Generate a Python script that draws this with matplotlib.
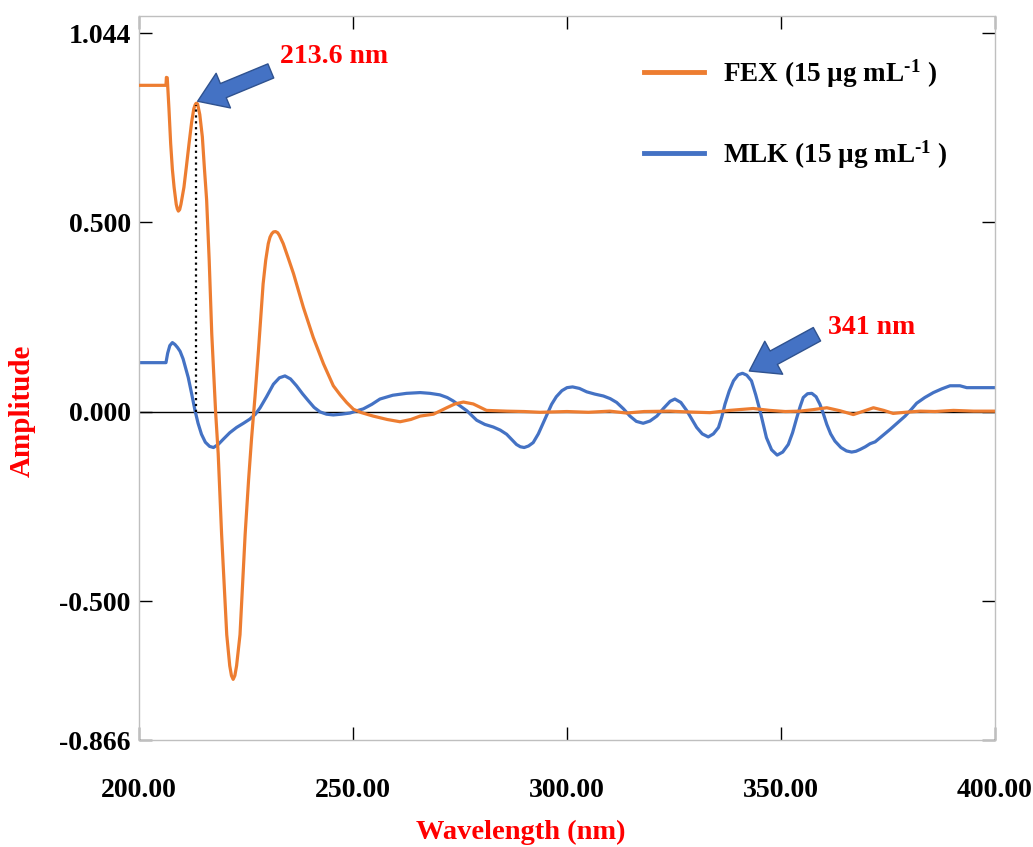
import matplotlib
matplotlib.use('Agg')
import matplotlib.pyplot as plt

plt.rcParams['font.family'] = ['Liberation Serif', 'DejaVu Serif']
plt.rcParams['font.weight'] = 'bold'
plt.rcParams['mathtext.fontset'] = 'custom'
plt.rcParams['mathtext.rm'] = 'Liberation Serif:bold'
plt.rcParams['mathtext.it'] = 'Liberation Serif:bold'
plt.rcParams['mathtext.bf'] = 'Liberation Serif:bold'
plt.rcParams['mathtext.default'] = 'rm'

# first-derivative spectra
fex_wl = [200, 203, 206.3, 206.4, 206.6, 207.0, 207.4, 207.8, 208.2, 208.7, 208.95, 209.2, 209.5, 209.8, 210.5,
          211.1, 211.7, 212.3, 212.8, 213.1, 213.3, 213.5, 213.7, 214.2, 214.8, 215.3, 215.8, 216.4, 217.0,
          217.9, 218.5, 219.3, 220.5, 221.2, 221.6, 222.0, 222.4, 222.8, 223.6, 224.8, 225.6, 226.3, 227.1,
          227.9, 229.0, 229.6, 230.2, 230.6, 231.0, 231.4, 231.9, 232.4, 232.8, 233.7, 234.9, 236.1, 238.4, 240.7, 243.1,
          245.4, 247.0, 248.5, 250.1, 252.0, 254.7, 258.0, 261.0, 263.5, 265.7, 268.8, 271.9,
          273.8, 275.8, 278.1, 281.2, 285.9, 290, 293.7, 300, 305, 310, 313.9, 318, 324, 328,
          333.4, 338, 343.5, 347.4, 351, 354.4, 357.5, 360.7, 363.8, 366.9, 369.3, 371.6, 374,
          376.2, 379, 382.5, 386, 390.3, 395, 400]
fex_amp = [0.862, 0.862, 0.862, 0.883, 0.882, 0.800, 0.708, 0.640, 0.593, 0.548, 0.536, 0.530, 0.534, 0.548, 0.593,
           0.650, 0.709, 0.765, 0.800, 0.810, 0.814, 0.815, 0.812, 0.785, 0.726, 0.640, 0.560, 0.400, 0.206,
           0.000, -0.110, -0.323, -0.588, -0.670, -0.696, -0.706, -0.696, -0.670, -0.588, -0.323, -0.180, -0.070, 0.040,
           0.161, 0.338, 0.400, 0.444, 0.461, 0.470, 0.475, 0.476, 0.473, 0.466, 0.444, 0.405, 0.365, 0.276, 0.197, 0.127,
           0.069, 0.045, 0.025, 0.007, -0.002, -0.011, -0.020, -0.026, -0.020, -0.011, -0.006, 0.011,
           0.021, 0.026, 0.021, 0.004, 0.002, 0.001, -0.001, 0.001, -0.001, 0.002, -0.003, 0.001, 0.002, 0.000,
           -0.002, 0.004, 0.009, 0.004, 0.001, 0.002, 0.006, 0.011, 0.003, -0.007, 0.002, 0.011, 0.004,
           -0.004, -0.001, 0.002, 0.001, 0.004, 0.002, 0.002]

mlk_wl = [200, 203, 206.3, 206.7, 207.2, 207.8, 208.4, 209.0, 209.6, 210.3, 211.5, 212.3, 213.1,
          213.8, 214.6, 215.5, 216.5, 217.4, 218.5, 219.7, 221.2, 222.8, 224.4, 225.9, 227.2,
          228.3, 229.8, 231.4, 232.8, 234.1, 235.4, 236.8, 238.2, 239.6, 240.9, 242.3, 243.8,
          245.4, 247.3, 249.3, 250.9, 252.4, 254.4, 256.3, 259.3, 262.5, 265.7, 268.0, 270.3,
          272.0, 273.4, 275.0, 276.6, 278.9, 280.8, 282.8, 284.4, 285.9, 287.1, 288.2, 289.1,
          290.0, 291.0, 292.1, 293.3, 294.5, 295.5, 296.4, 297.5, 298.8, 300.0, 301.3, 302.9,
          304.6, 306.5, 308.5, 310.1, 311.6, 313.2, 314.7, 316.2, 317.8, 319.4, 321.0, 322.6,
          324.1, 325.2, 326.6, 328.0, 329.2, 330.3, 331.6, 333.0, 334.2, 335.4, 336.2, 336.9,
          337.9, 338.9, 340.0, 341.0, 342.0, 343.1, 344.1, 345.1, 345.9, 346.6, 347.8, 349.1,
          350.4, 351.7, 352.7, 353.7, 354.5, 355.2, 356.2, 357.2, 358.2, 359.1, 359.9, 360.7,
          361.6, 362.6, 364.0, 365.3, 366.5, 367.5, 368.5, 369.7, 370.8, 372.0, 373.8, 375.5,
          377.3, 379.0, 380.4, 381.7, 383.6, 385.6, 387.6, 389.5, 391.8, 393.4, 396.0, 400.0]
mlk_amp = [0.130, 0.130, 0.130, 0.155, 0.175, 0.183, 0.178, 0.170, 0.160, 0.140, 0.091, 0.048, 0.003,
           -0.030, -0.059, -0.080, -0.091, -0.094, -0.086, -0.072, -0.055, -0.041, -0.030, -0.019, -0.006,
           0.011, 0.040, 0.073, 0.090, 0.095, 0.087, 0.069, 0.048, 0.029, 0.012, 0.000, -0.006,
           -0.008, -0.006, -0.003, 0.003, 0.008, 0.020, 0.034, 0.044, 0.049, 0.051, 0.049, 0.045,
           0.038, 0.029, 0.016, 0.003, -0.022, -0.033, -0.040, -0.048, -0.059, -0.073, -0.086, -0.092,
           -0.094, -0.090, -0.081, -0.058, -0.028, -0.003, 0.020, 0.040, 0.056, 0.064, 0.066, 0.062,
           0.053, 0.047, 0.042, 0.035, 0.025, 0.008, -0.011, -0.025, -0.030, -0.024, -0.011, 0.010,
           0.028, 0.034, 0.025, 0.003, -0.020, -0.041, -0.058, -0.066, -0.058, -0.041, -0.012, 0.020,
           0.055, 0.082, 0.098, 0.102, 0.097, 0.082, 0.045, 0.003, -0.035, -0.068, -0.100, -0.114,
           -0.106, -0.086, -0.055, -0.015, 0.015, 0.038, 0.048, 0.049, 0.040, 0.020, -0.005, -0.033,
           -0.058, -0.077, -0.094, -0.103, -0.106, -0.104, -0.099, -0.092, -0.084, -0.079, -0.062, -0.046,
           -0.028, -0.011, 0.006, 0.023, 0.038, 0.051, 0.061, 0.069, 0.069, 0.064, 0.064, 0.064]

ytick_vals = [-0.866, -0.5, 0.0, 0.5, 1.0]
ytick_labels = ['-0.866', '-0.500', '0.000', '0.500', '1.044']
xtick_vals = [200, 250, 300, 350, 400]
xtick_labels = ['200.00', '250.00', '300.00', '350.00', '400.00']

fex_peak = 213.6
mlk_peak = 341

fig = plt.figure(figsize=(10.33, 8.47), dpi=100)
ax = fig.add_axes([139 / 1033, 1 - 740 / 847, (995 - 139) / 1033, (740 - 16) / 847])

ax.axhline(0, color='black', lw=1, zorder=1)
ax.plot(fex_wl, fex_amp, color='#ED7D31', lw=2.3, label=r'FEX (15 µg mL$^{\text{-1}}$ )', zorder=3)
ax.plot(mlk_wl, mlk_amp, color='#4472C4', lw=2.3, label=r'MLK (15 µg mL$^{\text{-1}}$ )', zorder=2)
ax.plot([fex_peak - 0.2, fex_peak - 0.2], [0, 0.81], color='black', ls=':', lw=1.6, zorder=4)

ax.set_xlim(200, 400)
ax.set_ylim(-0.866, 1.045)
ax.set_xticks(xtick_vals)
ax.set_xticklabels(xtick_labels)
ax.set_yticks(ytick_vals)
ax.set_yticklabels(ytick_labels)
ax.tick_params(direction='in', length=9.5, width=1, top=True, right=True, labelsize=20)
ax.tick_params(axis='x', pad=27)
ax.tick_params(axis='y', pad=6)
for s in ax.spines.values():
    s.set_color('#BFBFBF')
    s.set_linewidth(1)

arrow = dict(arrowstyle='simple,head_length=1.0,head_width=1.35,tail_width=0.55',
             fc='#4472C4', ec='#2F528F', lw=1, mutation_scale=20, shrinkA=0, shrinkB=0)
ax.annotate('', xy=(fex_peak + 0.1, 0.82), xytext=(230.8, 0.90), arrowprops=arrow, zorder=5)
ax.text(232.9, 0.937, '213.6 nm', color='red', fontsize=20, fontweight='bold', ha='left', va='center')
ax.annotate('', xy=(342.6, 0.108), xytext=(358.4, 0.205), arrowprops=arrow, zorder=5)
ax.text(361, 0.222, '341 nm', color='red', fontsize=20, fontweight='bold', ha='left', va='center')

leg = ax.legend(loc='upper left', bbox_to_anchor=(644 / 1033, 1 - 57 / 847), bbox_transform=fig.transFigure,
                frameon=False, fontsize=19.5, handlelength=2.2, handletextpad=0.7,
                labelspacing=1.8, borderpad=0, borderaxespad=0)
for h in leg.get_lines():
    h.set_linewidth(3.5)

fig.text(22 / 1033, 1 - 411 / 847, 'Amplitude', color='red', fontsize=21, fontweight='bold',
         rotation=90, ha='center', va='center')
fig.text(521 / 1033, 1 - 832 / 847, 'Wavelength (nm)', color='red', fontsize=20.5, fontweight='bold',
         ha='center', va='center')

fig.savefig('out.png', dpi=100)
